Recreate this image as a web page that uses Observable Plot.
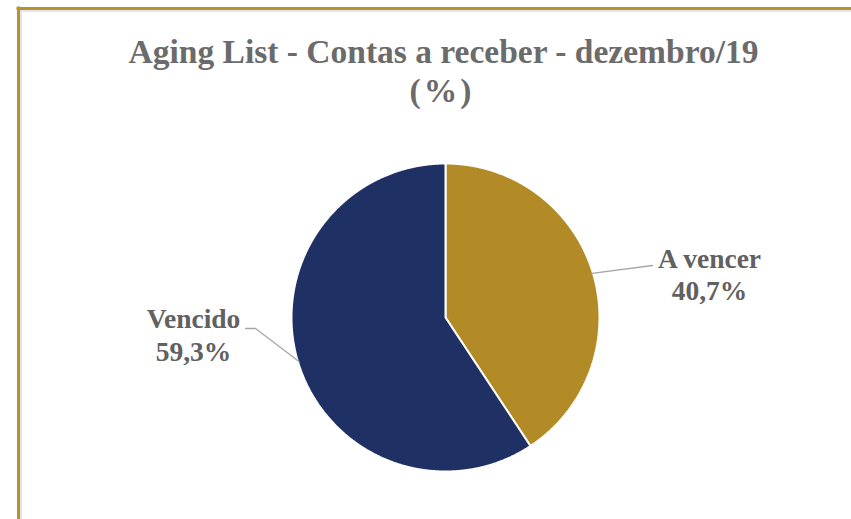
<!DOCTYPE html>
<html>
<head>
<meta charset="utf-8">
<script src="https://cdn.jsdelivr.net/npm/d3@7"></script>
<script src="https://cdn.jsdelivr.net/npm/@observablehq/plot@0.6"></script>
<style>
  html, body { margin: 0; padding: 0; background: #fff; }
</style>
</head>
<body>
<div id="chart"></div>
<script>
// ---- data ----
const categories = ["A vencer", "Vencido"];
const values = [40.7, 59.3];
const titleLines = ["Aging List - Contas a receber - dezembro/19", "(%)"];

// ---- styles / layout ----
const sliceColors = ["#B38B26", "#1F3064"];
const textGray = "#616161";
const W = 851, H = 519;
const cx = 445, cy = 317, R = 154;
const font = "Liberation Serif, Times New Roman, serif";

// pie geometry from data (clockwise from 12 o'clock)
const pie = d3.pie().sort(null).value(d => d.value)
  .startAngle(0).endAngle(2 * Math.PI);
const arcs = pie(categories.map((c, i) => ({category: c, value: values[i]})));

const slicePts = [];
arcs.forEach(a => {
  const cat = a.data.category;
  slicePts.push({category: cat, x: cx, y: cy});
  const n = Math.max(2, Math.ceil((a.endAngle - a.startAngle) / (Math.PI / 720)));
  for (let k = 0; k <= n; k++) {
    const t = a.startAngle + (a.endAngle - a.startAngle) * k / n;
    slicePts.push({category: cat, x: cx + R * Math.sin(t), y: cy - R * Math.cos(t)});
  }
  slicePts.push({category: cat, x: cx, y: cy});
});

// label layout (positions of label blocks)
const labelLayout = {
  "A vencer": {x: 709, y1: 267, y2: 299, elbow: null, lineStart: [652, 265]},
  "Vencido": {x: 193, y1: 327, y2: 360, elbow: [255, 328], lineStart: [245, 328]}
};
const fmt = v => v.toFixed(1).replace(".", ",") + "%";

const labelRows = [];
const leaderPts = [];
arcs.forEach(a => {
  const cat = a.data.category;
  const L = labelLayout[cat];
  labelRows.push({x: L.x, y: L.y1, text: cat});
  labelRows.push({x: L.x, y: L.y2, text: fmt(a.data.value)});
  const mid = (a.startAngle + a.endAngle) / 2;
  leaderPts.push({category: cat, x: L.lineStart[0], y: L.lineStart[1]});
  if (L.elbow) leaderPts.push({category: cat, x: L.elbow[0], y: L.elbow[1]});
  leaderPts.push({category: cat, x: cx + (R - 1) * Math.sin(mid), y: cy - (R - 1) * Math.cos(mid)});
});

const titleRows = [
  {x: 443, y: 62, text: titleLines[0]},
  {x: 440, y: 101, text: titleLines[1]}
];

const chart = Plot.plot({
  width: W,
  height: H,
  margin: 0,
  style: {background: "#fff"},
  x: {type: "identity", axis: null},
  y: {type: "identity", axis: null},
  color: {domain: categories, range: sliceColors},
  marks: [
    // frame border (gold top & left with faint inner shadow)
    Plot.ruleY([10.5], {x1: 20, x2: W, stroke: "#dcdcdc", strokeWidth: 1.5}),
    Plot.ruleX([20.5], {y1: 10, y2: H, stroke: "#dcdcdc", strokeWidth: 1.5}),
    Plot.ruleY([8], {x1: 16.5, x2: W, stroke: "#B8922E", strokeWidth: 3}),
    Plot.ruleX([18], {y1: 6.5, y2: H, stroke: "#B8922E", strokeWidth: 3}),
    // slices
    Plot.line(slicePts, {x: "x", y: "y", z: "category", fill: "category",
      stroke: "#fff", strokeWidth: 2, curve: "linear", strokeLinejoin: "miter"}),
    // leader lines
    Plot.line(leaderPts, {x: "x", y: "y", z: "category", stroke: "#a6a6a6", strokeWidth: 1.3}),
    // labels
    Plot.text(labelRows, {x: "x", y: "y", text: "text", lineAnchor: "bottom",
      textAnchor: "middle", fontFamily: font, fontWeight: "bold", fontSize: 27.5, fill: textGray}),
    // title
    Plot.text(titleRows, {x: "x", y: "y", text: "text", lineAnchor: "bottom",
      textAnchor: "middle", fontFamily: font, fontWeight: "bold", fontSize: 33.5, fill: "#6b6b6b"})
  ]
});
// slightly wider spacing on the "(%)" line, as in the reference
d3.select(chart).selectAll("text").filter(function() { return this.textContent === "(%)"; })
  .style("letter-spacing", "3px").attr("dx", 1.5);
document.getElementById("chart").appendChild(chart);
</script>
</body>
</html>
